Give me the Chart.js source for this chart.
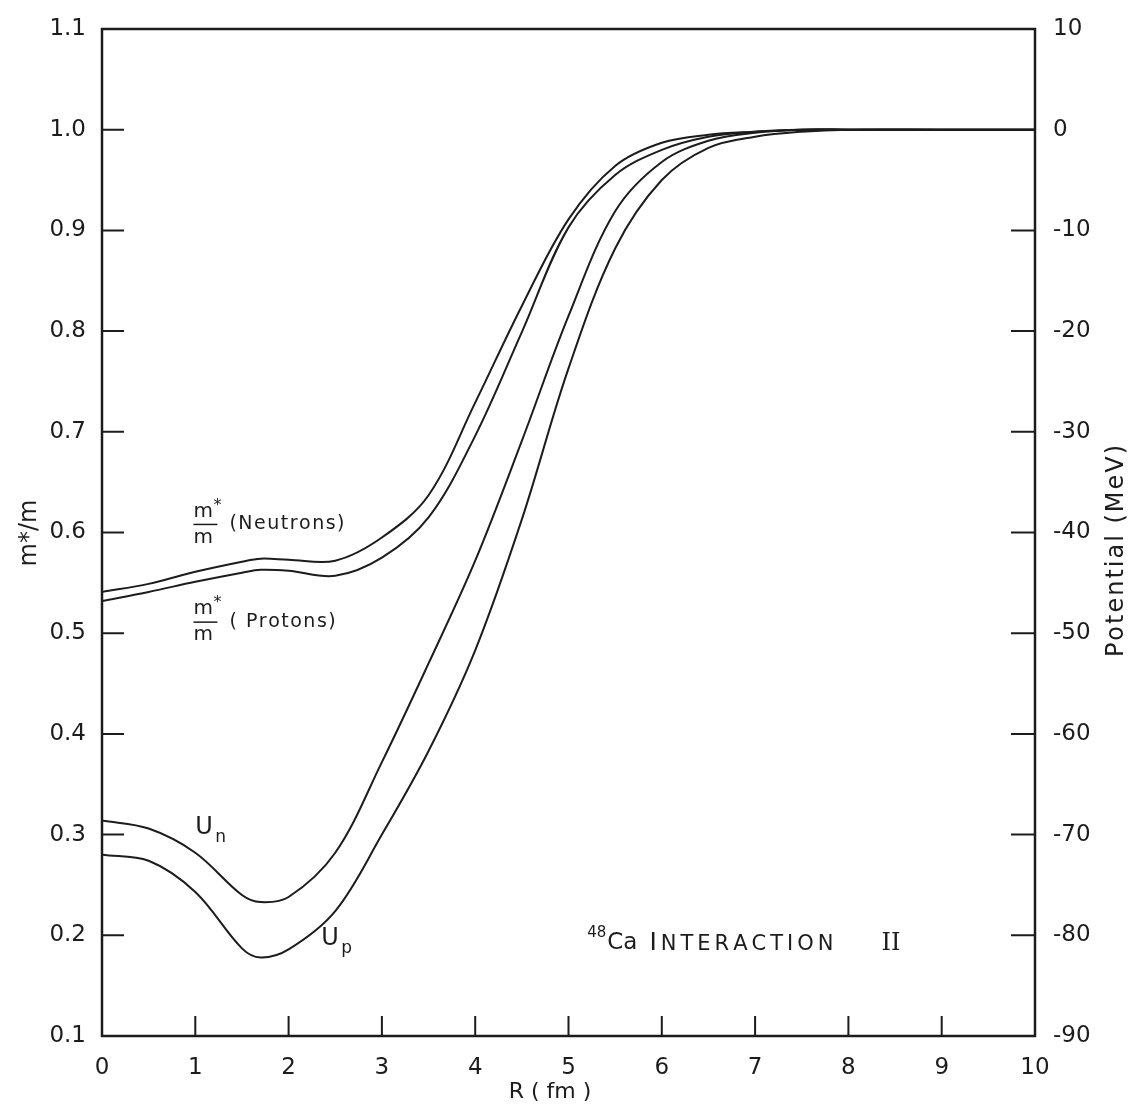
<!DOCTYPE html>
<html>
<head>
<meta charset="utf-8">
<script src="https://cdn.jsdelivr.net/npm/chart.js@4/dist/chart.umd.min.js"></script>
<style>
  html, body { margin: 0; padding: 0; background: #fff; }
  canvas { display: block; }
</style>
</head>
<body>
<canvas id="caChart" width="1132" height="1114"></canvas>
<script>
// radius in fm
const rValues = [0, 0.5, 1, 1.5, 1.7, 2, 2.5, 3, 3.5, 4, 4.5, 5, 5.5, 6, 6.5, 7, 7.5, 8, 9, 10];

// effective mass ratio m*/m (left axis)
const massNeutrons = [0.541, 0.549, 0.561, 0.571, 0.574, 0.573, 0.572, 0.595, 0.637, 0.729, 0.825, 0.911, 0.964, 0.987, 0.995, 0.998, 1.0, 1.0, 1.0, 1.0];
const massProtons = [0.532, 0.541, 0.551, 0.560, 0.563, 0.562, 0.557, 0.575, 0.615, 0.696, 0.799, 0.903, 0.955, 0.980, 0.993, 0.998, 1.0, 1.0, 1.0, 1.0];

// potentials in MeV (right axis)
const potNeutrons = [-68.6, -69.4, -71.8, -76.0, -76.7, -76.2, -71.8, -62.8, -53.0, -42.8, -30.9, -18.5, -8.1, -3.2, -1.1, -0.3, 0, 0, 0, 0];
const potProtons = [-72.0, -72.6, -75.7, -81.3, -82.2, -81.4, -77.6, -70.0, -61.7, -51.7, -38.7, -23.7, -11.8, -5.0, -1.8, -0.7, -0.2, 0, 0, 0];

const xTicks = [0, 1, 2, 3, 4, 5, 6, 7, 8, 9, 10];
const massTicks = [0.1, 0.2, 0.3, 0.4, 0.5, 0.6, 0.7, 0.8, 0.9, 1.0, 1.1];
const potTicks = [10, 0, -10, -20, -30, -40, -50, -60, -70, -80, -90];

const ink = '#1c1c1c';
const labelFont = '"DejaVu Sans", sans-serif';

function toPoints(ys) {
    return rValues.map((r, i) => ({ x: r, y: ys[i] }));
}

function curve(label, ys, axis) {
    return {
        label: label,
        data: toPoints(ys),
        yAxisID: axis,
        borderColor: ink,
        borderWidth: 2,
        pointRadius: 0,
        fill: false,
        tension: 0.35
    };
}

// draws text one letter at a time with extra gap, returns end x
function spaced(ctx, text, px, py, gap) {
    for (const ch of text) {
        ctx.fillText(ch, px, py);
        px += ctx.measureText(ch).width + gap;
    }
    return px;
}

// frame, inward tick marks, titles and curve labels
const decorPlugin = {
    id: 'decor',
    afterDraw(chart) {
        const ctx = chart.ctx;
        const a = chart.chartArea;
        const x = chart.scales.x;
        const y = chart.scales.y;
        const yr = chart.scales.yr;

        ctx.save();
        ctx.strokeStyle = ink;
        ctx.lineWidth = 2.5;
        ctx.strokeRect(a.left, a.top, a.right - a.left, a.bottom - a.top);

        ctx.lineWidth = 2;
        ctx.beginPath();
        xTicks.slice(1, -1).forEach(v => {
            const px = x.getPixelForValue(v);
            ctx.moveTo(px, a.bottom);
            ctx.lineTo(px, a.bottom - 20);
        });
        massTicks.slice(1, -1).forEach(v => {
            const py = y.getPixelForValue(v);
            ctx.moveTo(a.left, py);
            ctx.lineTo(a.left + 22, py);
        });
        potTicks.slice(2, -1).forEach(v => {
            const py = yr.getPixelForValue(v);
            ctx.moveTo(a.right, py);
            ctx.lineTo(a.right - 24, py);
        });
        ctx.stroke();

        ctx.fillStyle = ink;
        ctx.textBaseline = 'middle';
        ctx.textAlign = 'left';

        // left axis title
        ctx.save();
        ctx.translate(30, 533);
        ctx.rotate(-Math.PI / 2);
        ctx.font = '24px ' + labelFont;
        ctx.textAlign = 'center';
        ctx.fillText('m*/m', 0, 0);
        ctx.restore();

        // right axis title, reading upwards
        ctx.save();
        ctx.translate(1117, 550);
        ctx.rotate(-Math.PI / 2);
        ctx.font = '24px ' + labelFont;
        const title = 'Potential (MeV)';
        let w = 0;
        for (const ch of title) w += ctx.measureText(ch).width + 2;
        spaced(ctx, title, -w / 2, 0, 2);
        ctx.restore();

        // x axis title
        ctx.font = '22px ' + labelFont;
        ctx.textAlign = 'center';
        ctx.fillText('R ( fm )', 550, 1092);
        ctx.textAlign = 'left';

        // fraction labels m*/m
        function fraction(px, py, text) {
            ctx.font = '20px ' + labelFont;
            ctx.fillText('m', px, py - 13);
            ctx.font = '16px ' + labelFont;
            ctx.fillText('*', px + 20, py - 19);
            ctx.beginPath();
            ctx.lineWidth = 1.5;
            ctx.moveTo(px, py);
            ctx.lineTo(px + 24, py);
            ctx.stroke();
            ctx.font = '20px ' + labelFont;
            ctx.fillText('m', px, py + 13);
            ctx.font = '19px ' + labelFont;
            spaced(ctx, text, px + 36, py, 1.5);
        }
        fraction(x.getPixelForValue(0.98), y.getPixelForValue(0.608), '(Neutrons)');
        fraction(x.getPixelForValue(0.98), y.getPixelForValue(0.511), '( Protons)');

        // U_n, U_p
        function uLabel(px, py, sub) {
            ctx.font = '24px ' + labelFont;
            ctx.fillText('U', px, py);
            ctx.font = '17px ' + labelFont;
            ctx.fillText(sub, px + 20, py + 10);
        }
        uLabel(x.getPixelForValue(1.0), y.getPixelForValue(0.307), 'n');
        uLabel(x.getPixelForValue(2.35), y.getPixelForValue(0.197), 'p');

        // 48Ca INTERACTION II
        let px = x.getPixelForValue(5.2);
        const py = y.getPixelForValue(0.192);
        ctx.font = '15px ' + labelFont;
        ctx.fillText('48', px, py - 10);
        px += ctx.measureText('48').width + 1;
        ctx.font = '23px ' + labelFont;
        ctx.fillText('Ca', px, py);
        px += ctx.measureText('Ca').width + 12;
        ctx.font = '25px ' + labelFont;
        ctx.fillText('I', px, py);
        px += ctx.measureText('I').width + 4;
        ctx.font = '21px ' + labelFont;
        px = spaced(ctx, 'NTERACTION', px, py + 1, 4);
        ctx.font = '24px "DejaVu Serif", serif';
        ctx.fillText('II', px + 44, py);

        ctx.restore();
    }
};

new Chart(document.getElementById('caChart'), {
    type: 'line',
    data: {
        datasets: [
            curve('m*/m (Neutrons)', massNeutrons, 'y'),
            curve('m*/m (Protons)', massProtons, 'y'),
            curve('Un', potNeutrons, 'yr'),
            curve('Up', potProtons, 'yr')
        ]
    },
    options: {
        responsive: false,
        animation: false,
        layout: { padding: { top: 29, left: 0, right: 0, bottom: 0 } },
        plugins: {
            legend: { display: false },
            tooltip: { enabled: false }
        },
        scales: {
            x: {
                type: 'linear',
                min: 0,
                max: 10,
                afterBuildTicks: s => { s.ticks = xTicks.map(v => ({ value: v })); },
                afterFit: s => { s.height = 78; },
                grid: { display: false },
                border: { display: false },
                ticks: {
                    color: ink,
                    padding: 10,
                    font: { size: 23, family: labelFont },
                    callback: v => String(v)
                }
            },
            y: {
                position: 'left',
                min: 0.1,
                max: 1.1,
                afterBuildTicks: s => { s.ticks = massTicks.map(v => ({ value: v })); },
                afterFit: s => { s.width = 102; },
                grid: { display: false },
                border: { display: false },
                ticks: {
                    color: ink,
                    padding: 8,
                    font: { size: 23, family: labelFont },
                    callback: v => Number(v).toFixed(1)
                }
            },
            yr: {
                position: 'right',
                min: -90,
                max: 10,
                afterBuildTicks: s => { s.ticks = potTicks.map(v => ({ value: v })); },
                afterFit: s => { s.width = 97; },
                grid: { display: false },
                border: { display: false },
                ticks: {
                    color: ink,
                    padding: 10,
                    font: { size: 23, family: labelFont },
                    callback: v => String(v)
                }
            }
        }
    },
    plugins: [decorPlugin]
});
</script>
</body>
</html>
